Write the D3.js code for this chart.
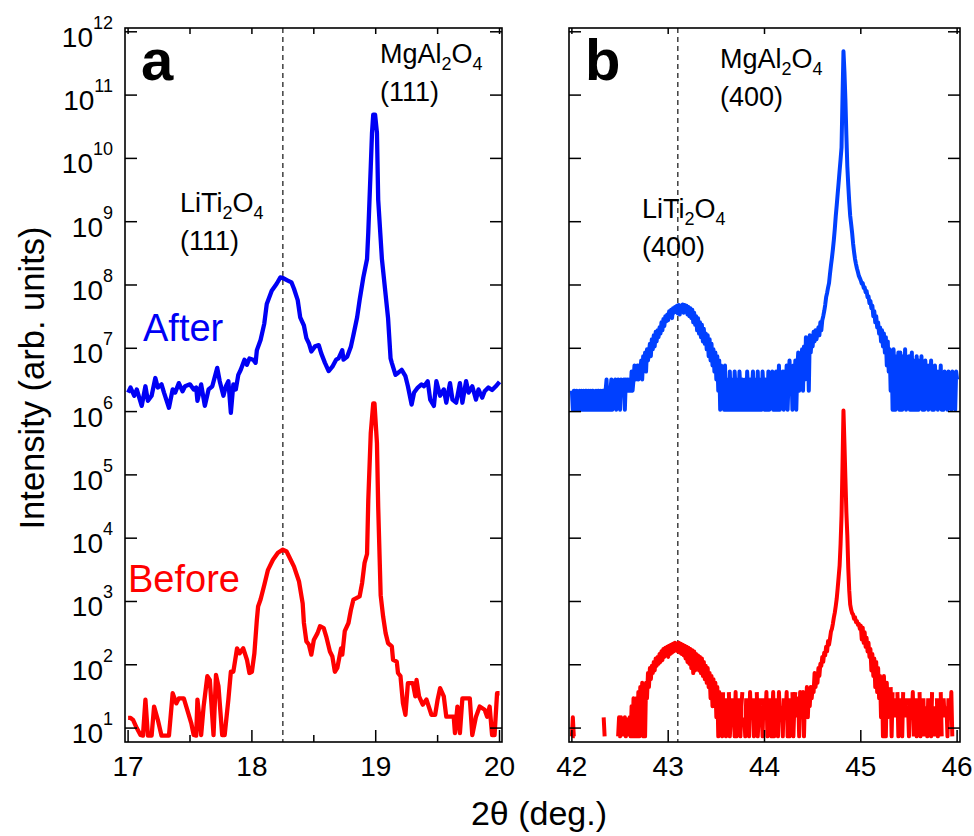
<!DOCTYPE html>
<html>
<head>
<meta charset="utf-8">
<script src="https://cdn.jsdelivr.net/npm/d3@7"></script>
<style>
  body { margin: 0; background: #fff; }
  text { font-family: "Liberation Sans", Arial, Helvetica, sans-serif; fill: #000; }
</style>
</head>
<body>
<div id="chart"></div>
<script>
// ---- data ----
// panel a: [2theta, log10 intensity]
var afterA = [[17.00,6.30],[17.02,6.38],[17.05,6.25],[17.07,6.35],[17.11,6.09],[17.14,6.40],[17.16,6.17],[17.19,6.25],[17.22,6.53],[17.24,6.38],[17.27,6.43],[17.29,6.30],[17.33,6.06],[17.36,6.35],[17.38,6.30],[17.41,6.45],[17.44,6.32],[17.46,6.40],[17.50,6.43],[17.53,6.35],[17.55,6.38],[17.56,6.17],[17.59,6.43],[17.62,6.09],[17.65,6.35],[17.68,6.40],[17.72,6.69],[17.74,6.48],[17.77,6.25],[17.79,6.40],[17.81,6.48],[17.83,5.98],[17.85,6.43],[17.87,6.35],[17.89,6.58],[17.91,6.66],[17.94,6.82],[17.96,6.74],[17.98,6.84],[18.01,6.82],[18.03,6.77],[18.04,6.97],[18.07,7.13],[18.10,7.39],[18.12,7.70],[18.16,7.91],[18.20,8.02],[18.23,8.12],[18.25,8.11],[18.29,8.07],[18.32,8.04],[18.34,7.94],[18.37,7.76],[18.39,7.49],[18.42,7.36],[18.44,7.16],[18.46,7.08],[18.48,6.95],[18.51,7.03],[18.54,7.05],[18.56,6.92],[18.59,6.77],[18.62,6.64],[18.65,6.71],[18.68,6.82],[18.70,6.84],[18.73,6.97],[18.74,6.82],[18.77,6.87],[18.80,7.03],[18.82,7.21],[18.85,7.49],[18.87,7.76],[18.90,8.12],[18.93,8.41],[18.94,8.83],[18.96,9.87],[18.97,10.40],[18.98,10.69],[18.995,10.69],[19.01,10.40],[19.02,9.35],[19.05,8.41],[19.075,7.94],[19.10,7.47],[19.12,6.84],[19.13,6.77],[19.16,6.58],[19.18,6.61],[19.21,6.66],[19.24,6.56],[19.26,6.40],[19.29,6.11],[19.31,6.30],[19.34,6.38],[19.37,6.43],[19.39,6.40],[19.42,6.48],[19.44,6.19],[19.47,6.09],[19.49,6.48],[19.52,6.25],[19.55,6.35],[19.57,6.14],[19.60,6.45],[19.62,6.19],[19.65,6.14],[19.68,6.45],[19.70,6.14],[19.73,6.48],[19.75,6.30],[19.78,6.40],[19.81,6.19],[19.83,6.35],[19.86,6.22],[19.88,6.32],[19.91,6.38],[19.94,6.34],[19.97,6.40],[20.00,6.47]];

var beforeA = [[17.00,1.16],[17.02,1.16],[17.04,1.13],[17.07,1.00],[17.10,0.89],[17.12,0.88],[17.14,1.45],[17.16,0.88],[17.19,0.88],[17.21,1.34],[17.24,1.13],[17.27,0.88],[17.33,0.88],[17.36,1.55],[17.39,1.39],[17.41,1.47],[17.45,1.47],[17.47,1.34],[17.51,1.08],[17.53,0.89],[17.55,0.88],[17.56,1.45],[17.59,0.89],[17.61,1.34],[17.64,1.82],[17.66,1.76],[17.69,0.89],[17.71,1.84],[17.73,1.66],[17.76,0.89],[17.78,0.89],[17.81,1.45],[17.83,1.89],[17.85,1.89],[17.88,2.26],[17.90,2.18],[17.93,2.26],[17.96,2.08],[17.98,1.87],[18.00,1.89],[18.02,2.18],[18.04,2.71],[18.05,2.92],[18.07,3.03],[18.10,3.26],[18.13,3.50],[18.17,3.66],[18.21,3.77],[18.25,3.82],[18.28,3.79],[18.30,3.71],[18.34,3.55],[18.38,3.32],[18.41,2.97],[18.42,2.66],[18.44,2.37],[18.46,2.32],[18.48,2.16],[18.50,2.39],[18.53,2.50],[18.55,2.61],[18.58,2.58],[18.60,2.45],[18.63,2.21],[18.65,2.13],[18.67,1.89],[18.69,1.95],[18.72,2.26],[18.73,2.16],[18.75,2.53],[18.78,2.66],[18.80,2.87],[18.82,3.03],[18.84,3.05],[18.87,3.08],[18.89,3.29],[18.91,3.61],[18.93,3.75],[18.94,4.60],[18.96,5.66],[18.98,6.13],[18.99,6.13],[19.01,5.50],[19.02,4.50],[19.04,3.10],[19.06,2.76],[19.08,2.50],[19.10,2.34],[19.13,2.29],[19.14,2.08],[19.17,2.05],[19.18,1.87],[19.20,1.82],[19.22,1.39],[19.24,1.21],[19.26,1.71],[19.30,1.71],[19.32,1.50],[19.33,1.76],[19.35,1.50],[19.38,1.37],[19.41,1.45],[19.45,1.21],[19.48,1.21],[19.50,1.45],[19.52,1.63],[19.55,1.50],[19.57,1.18],[19.63,1.18],[19.64,0.92],[19.66,1.34],[19.68,0.92],[19.70,1.47],[19.76,1.47],[19.78,0.89],[19.81,1.18],[19.84,1.34],[19.88,1.29],[19.90,1.18],[19.92,1.34],[19.94,0.89],[19.96,0.89],[19.98,1.55],[20.00,1.55]];

// panel b: detector counts every 0.01 deg from 42.00 (0 = no count)
var startB = 42.0, stepB = 0.01;
var afterScaleB = 1.07e6, beforeScaleB = 7.4;
var afterCountsB = [
  2,1,2,2,1,2,1,1,2,1, 2,1,2,1,2,2,1,2,1,2, 1,2,2,1,1,2,1,2,2,1, 2,1,2,2,1,2,3,1,2,1,
  2,3,1,2,2,3,1,2,3,2, 1,3,2,2,3,1,3,2,3,2, 3,2,4,2,3,5,3,4,5,3, 5,4,6,3,7,5,8,4,9,6,
  8,11,7,13,9,15,10,17,12,18, 14,20,16,24,18,27,21,30,25,32,
  26,36,30,38,28,40,34,42,35,44, 33,45,32,44,36,46,34,45,36,44,
  32,42,30,40,28,38,24,34,22,30, 18,28,16,24,14,22,12,19,11,16,
  9,15,7,13,6,11,5,9,4,8, 3,7,2,6,1,5,2,4,1,5,
  1,3,2,1,4,1,2,3,1,4, 2,1,3,1,4,2,1,3,1,2, 3,1,4,2,1,3,1,2,4,1, 2,3,1,4,1,2,3,1,4,2,
  1,3,2,1,4,1,3,2,4,1, 3,1,4,2,1,5,1,3,2,4, 1,4,2,5,1,3,6,2,4,1, 5,2,6,1,4,8,2,7,3,9,
  2,10,3,14,4,12,2,15,8,13, 10,17,12,18,13,16,20,15,24,18,
  26,30,36,45,60,70,85,100,140,190,
  250,340,480,720,1150,1700,2600,3900,6000,9000,
  14000,85000,460000,220000,80000,22000,7000,3500,1900,1150,
  850,620,420,310,240,200,170,150,130,120,
  110,98,100,84,86,72,75,60,62,48, 52,40,44,30,36,24,30,20,24,16,
  20,12,18,10,16,8,14,5,12,4, 9,2,8,1,9,3,1,7,2,8,
  1,8,3,1,7,2,9,1,5,2, 7,1,4,8,1,3,6,1,7,2, 1,6,2,7,1,4,1,6,2,5, 1,5,2,6,1,3,1,5,2,4,
  1,4,2,5,1,3,1,4,2,3, 1,4,2,3,1,4,2,3,1,4,3
];
var beforeCountsB = [
  1,2,1,1,0,0,0,0,0,0, 0,0,0,0,0,0,0,0,0,0, 0,0,0,0,0,0,0,0,0,0, 0,0,0,2,1,0,0,0,0,0,
  0,0,0,0,0,0,0,0,1,2, 1,2,1,0,1,2,1,2,0,1, 2,1,3,1,4,2,1,4,1,5, 1,6,2,7,1,5,1,7,4,10,
  6,12,8,13,10,15,11,17,13,18, 14,20,15,22,16,24,18,25,19,26,
  18,27,20,28,21,29,22,30,23,29, 22,30,21,29,20,28,19,27,17,26,
  15,25,14,24,12,23,10,22,11,20, 12,19,11,18,10,17,9,15,8,13,
  7,12,6,10,4,9,3,8,3,7, 2,6,1,5,2,4,1,5,0,4,
  1,3,0,5,1,2,4,0,3,1, 5,1,2,0,4,1,3,5,0,2, 1,4,0,3,1,5,2,0,4,1, 3,0,5,1,2,4,0,3,1,4,
  0,2,5,1,3,0,4,1,2,5, 1,3,0,4,1,5,2,0,3,1, 4,0,2,5,1,3,1,4,0,5, 1,3,5,0,2,4,1,5,2,3,
  5,1,4,2,6,2,5,3,6,4, 6,5,10,6,9,7,12,9,14,13,
  18,15,21,19,26,22,32,28,35,45,
  50,60,75,90,115,150,220,330,500,1100,
  3100,19000,140000,43000,12000,3500,1500,450,200,120,
  100,88,84,72,76,64,66,58,60,50,
  56,34,52,30,44,26,36,22,30,18, 24,11,20,9,17,6,15,5,12,4,
  9,2,8,1,9,3,1,7,2,6, 0,6,1,5,0,4,2,0,5,1,
  4,0,3,1,5,0,2,4,0,3, 1,4,0,2,5,1,0,4,1,3, 0,5,1,2,0,4,1,0,3,1, 4,0,2,1,5,0,3,1,0,4,
  1,3,0,5,1,0,4,2,0,3, 1,4,0,2,5,1,0,0,0,0,0
];

var xTicksA = [17, 18, 19, 20];
var xMinorA = [17.5, 18.5, 19.5];
var xTicksB = [42, 43, 44, 45, 46];
var yExponents = [1, 2, 3, 4, 5, 6, 7, 8, 9, 10, 11, 12];

// ---- layout ----
var width = 974, height = 836;
var plotTop = 28, plotBottom = 742;
var blueA = "#0000f5", blueB = "#0040ff", red = "#ff0000";

var svg = d3.select("#chart").append("svg")
  .attr("width", width)
  .attr("height", height);

var y = d3.scaleLog()
  .domain([Math.pow(10, 0.78), Math.pow(10, 12.06)])
  .range([plotBottom, plotTop]);

var panels = [
  {name: "a", left: 125, right: 502, domain: [16.975, 20.02], ticks: xTicksA, minor: xMinorA, dash: 18.25},
  {name: "b", left: 569, right: 960, domain: [41.97, 46.03], ticks: xTicksB, minor: [], dash: 43.1}
];

panels.forEach(function(p) {
  p.x = d3.scaleLinear().domain(p.domain).range([p.left, p.right]);

  svg.append("clipPath").attr("id", "clip-" + p.name)
    .append("rect")
    .attr("x", p.left).attr("y", plotTop)
    .attr("width", p.right - p.left).attr("height", plotBottom - plotTop);

  var g = svg.append("g");

  g.append("line")
    .attr("x1", p.x(p.dash)).attr("x2", p.x(p.dash))
    .attr("y1", plotTop).attr("y2", plotBottom)
    .attr("stroke", "#222").attr("stroke-width", 1.3)
    .attr("stroke-dasharray", "5,4");

  p.plot = g.append("g").attr("clip-path", "url(#clip-" + p.name + ")");

  // frame
  g.append("rect")
    .attr("x", p.left).attr("y", plotTop)
    .attr("width", p.right - p.left).attr("height", plotBottom - plotTop)
    .attr("fill", "none").attr("stroke", "#000").attr("stroke-width", 1.6);

  // x ticks
  p.ticks.forEach(function(t) {
    g.append("line").attr("x1", p.x(t)).attr("x2", p.x(t))
      .attr("y1", plotBottom).attr("y2", plotBottom - 12)
      .attr("stroke", "#000").attr("stroke-width", 1.5);
    g.append("line").attr("x1", p.x(t)).attr("x2", p.x(t))
      .attr("y1", plotTop).attr("y2", plotTop + 6)
      .attr("stroke", "#000").attr("stroke-width", 1.5);
    g.append("text")
      .attr("x", p.x(t)).attr("y", 776)
      .attr("text-anchor", "middle")
      .attr("font-size", 28)
      .text(t);
  });
  p.minor.forEach(function(t) {
    g.append("line").attr("x1", p.x(t)).attr("x2", p.x(t))
      .attr("y1", plotBottom).attr("y2", plotBottom - 7)
      .attr("stroke", "#000").attr("stroke-width", 1.5);
    g.append("line").attr("x1", p.x(t)).attr("x2", p.x(t))
      .attr("y1", plotTop).attr("y2", plotTop + 6)
      .attr("stroke", "#000").attr("stroke-width", 1.5);
  });

  // y ticks on both sides
  yExponents.forEach(function(k) {
    var yy = y(Math.pow(10, k));
    g.append("line").attr("x1", p.left).attr("x2", p.left + 12)
      .attr("y1", yy).attr("y2", yy)
      .attr("stroke", "#000").attr("stroke-width", 1.5);
    g.append("line").attr("x1", p.right).attr("x2", p.right - 12)
      .attr("y1", yy).attr("y2", yy)
      .attr("stroke", "#000").attr("stroke-width", 1.5);
  });

  // panel letter
  g.append("text")
    .attr("x", p.left + 16).attr("y", 80)
    .attr("font-size", 58).attr("font-weight", "bold")
    .text(p.name);
});

// y tick labels (panel a only)
yExponents.forEach(function(k) {
  var yy = y(Math.pow(10, k));
  var t = svg.append("text")
    .attr("x", 113).attr("y", yy + 15)
    .attr("text-anchor", "end")
    .attr("font-size", 28);
  t.append("tspan").text("10");
  t.append("tspan").attr("dy", -18).attr("font-size", 18).text(k);
});

// curves
var lineA = d3.line()
  .x(function(d) { return panels[0].x(d[0]); })
  .y(function(d) { return y(Math.pow(10, d[1])); });

panels[0].plot.append("path").datum(afterA)
  .attr("d", lineA).attr("fill", "none")
  .attr("stroke", blueA).attr("stroke-width", 4.3).attr("stroke-linejoin", "round");
panels[0].plot.append("path").datum(beforeA)
  .attr("d", lineA).attr("fill", "none")
  .attr("stroke", red).attr("stroke-width", 4.3).attr("stroke-linejoin", "round");

function countsToPoints(counts, scale) {
  return counts.map(function(c, i) { return [startB + i * stepB, c * scale]; });
}

var lineB = d3.line()
  .defined(function(d) { return d[1] > 0; })
  .x(function(d) { return panels[1].x(d[0]); })
  .y(function(d) { return y(d[1]); });

panels[1].plot.append("path").datum(countsToPoints(afterCountsB, afterScaleB))
  .attr("d", lineB).attr("fill", "none")
  .attr("stroke", blueB).attr("stroke-width", 4).attr("stroke-linejoin", "round");
panels[1].plot.append("path").datum(countsToPoints(beforeCountsB, beforeScaleB))
  .attr("d", lineB).attr("fill", "none")
  .attr("stroke", red).attr("stroke-width", 4).attr("stroke-linejoin", "round");

// peak labels: formula with subscripts, then (hkl) on the next line
function chem(x, yy, formula, hkl) {
  var t = svg.append("text").attr("x", x).attr("y", yy).attr("font-size", 27);
  var shift = 0;
  formula.forEach(function(s) {
    var ts = t.append("tspan");
    if (typeof s === "number") {
      ts.attr("dy", 7 - shift).attr("font-size", 18).text(s);
      shift = 7;
    } else {
      ts.attr("dy", -shift).text(s);
      shift = 0;
    }
  });
  svg.append("text").attr("x", x).attr("y", yy + 38).attr("font-size", 27).text(hkl);
}
chem(380, 63, ["MgAl", 2, "O", 4], "(111)");
chem(180, 212, ["LiTi", 2, "O", 4], "(111)");
chem(720, 68, ["MgAl", 2, "O", 4], "(400)");
chem(642, 218, ["LiTi", 2, "O", 4], "(400)");

svg.append("text").attr("x", 143).attr("y", 341)
  .attr("font-size", 38).style("fill", blueA).text("After");
svg.append("text").attr("x", 128).attr("y", 592)
  .attr("font-size", 38).style("fill", red).text("Before");

// axis titles
svg.append("text")
  .attr("transform", "translate(44,378) rotate(-90)")
  .attr("text-anchor", "middle")
  .attr("font-size", 34.5)
  .text("Intensity (arb. units)");
svg.append("text")
  .attr("x", 539).attr("y", 825)
  .attr("text-anchor", "middle")
  .attr("font-size", 34)
  .text("2θ (deg.)");
</script>
</body>
</html>
